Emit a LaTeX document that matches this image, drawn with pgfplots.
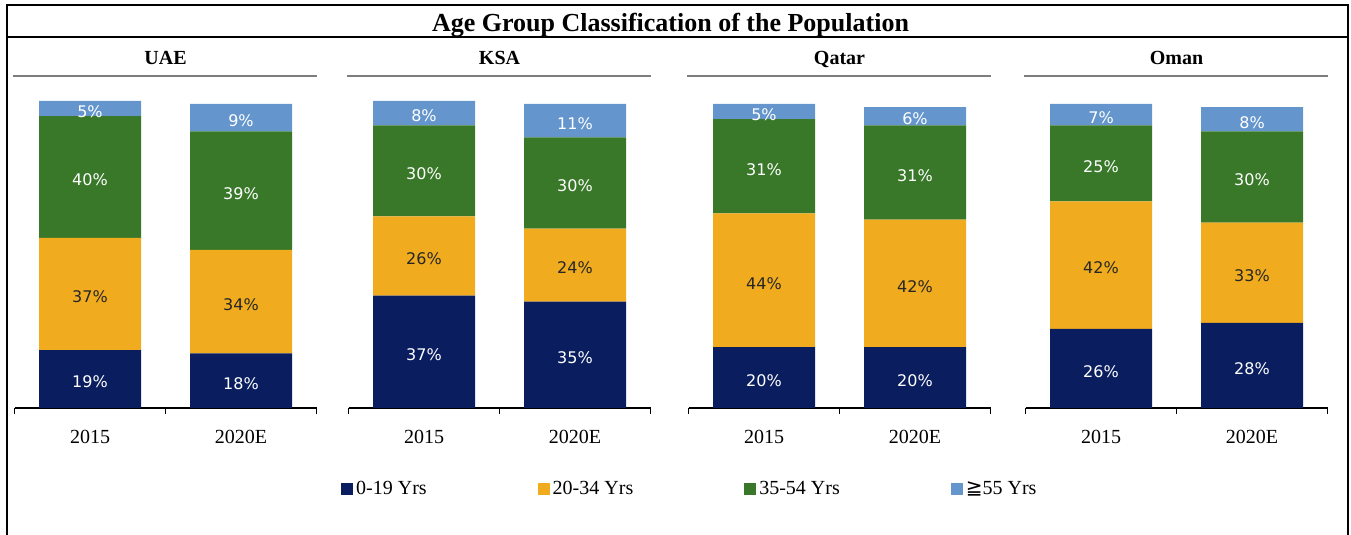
\documentclass[border=0pt]{standalone}
\usepackage{pgfplots}
\pgfplotsset{compat=1.18}
\usepackage{pgfplotstable}
\usepackage{fontspec}
\setmainfont{Liberation Serif}
\newfontfamily\labfont{DejaVu Sans}
\newfontfamily\symfont{DejaVu Sans}

\definecolor{cnavy}{RGB}{10,30,95}
\definecolor{cyellow}{RGB}{240,172,30}
\definecolor{cgreen}{RGB}{56,120,40}
\definecolor{cblue}{RGB}{100,150,205}
\definecolor{cgray}{RGB}{125,125,125}

% a = 0-19, b = 20-34, c = 35-54, d = >=55
\pgfplotstableread{
x a b c d
0 19 37 40 5
1 18 34 39 9
}\uae
\pgfplotstableread{
x a b c d
0 37 26 30 8
1 35 24 30 11
}\ksa
\pgfplotstableread{
x a b c d
0 20 44 31 5
1 20 42 31 6
}\qatar
\pgfplotstableread{
x a b c d
0 26 42 25 7
1 28 33 30 8
}\oman

\pgfplotsset{
  panel/.style={
    scale only axis, width=302pt, height=304pt,
    xmin=-0.5, xmax=1.5, ymin=0, ymax=100, enlargelimits=false,
    anchor=south west, hide axis, clip=false,
    ybar stacked, bar width=102pt,
  },
  legsq/.style={legend image code/.code={\fill[##1,draw=none] (0pt,-6pt) rectangle (12pt,6pt);}},
  seg/.style n args={2}{fill=#1, draw=none, forget plot,
    point meta=explicit symbolic,
    nodes near coords={\pgfplotspointmeta\%},
    every node near coord/.append style={anchor=center, text=#2,
      yshift=-3pt, font=\labfont\fontsize{16}{19}\selectfont, inner sep=0pt}},
}

\newcommand\panel[5]{%
\begin{axis}[panel, at={(#1pt,127pt)}, #4]
  \addplot[seg={cnavy}{white}] table[x=x,y=a,meta=a]{#3};
  \addplot[seg={cyellow}{black!85}] table[x=x,y=b,meta=b]{#3};
  \addplot[seg={cgreen}{white}] table[x=x,y=c,meta=c]{#3};
  \addplot[seg={cblue}{white}] table[x=x,y=d,meta=d]{#3};
  #5
  \draw[line width=1.3pt] (axis cs:-0.5,0) -- (axis cs:1.5,0);
  \draw[line width=1.3pt] (axis cs:-0.5,0) -- ++(0pt,-6pt);
  \draw[line width=1.3pt] (axis cs:0.5,0) -- ++(0pt,-6pt);
  \draw[line width=1.3pt] (axis cs:1.5,0) -- ++(0pt,-6pt);
  \node[anchor=base, font=\fontsize{20}{24}\selectfont] at (axis cs:0,0) [yshift=-36pt] {2015};
  \node[anchor=base, font=\fontsize{20}{24}\selectfont] at (axis cs:1,0) [yshift=-36pt] {2020E};
  \draw[cgray, line width=2.4pt] ([yshift=332pt]axis cs:-0.51,0) -- ([yshift=332pt]axis cs:1.5,0);
  \node[anchor=base, font=\bfseries\fontsize{20}{24}\selectfont] at (axis cs:0.5,0) [yshift=343.5pt] {#2};
\end{axis}}

\begin{document}
\begin{tikzpicture}
\draw[line width=2.2pt] (6.7pt,0pt) -- (6.7pt,529.8pt) -- (1347.8pt,529.8pt) -- (1347.8pt,0pt);
\draw[line width=1.6pt] (6.7pt,498pt) -- (1347.8pt,498pt);
\node[anchor=base, font=\bfseries\fontsize{26}{30}\selectfont] at (670.5pt,503.5pt) {Age Group Classification of the Population};

\panel{14.5}{UAE}{\uae}{
  legend columns=4,
  legend style={at={(1.0811,-0.2664)}, anchor=west, draw=none, fill=none, inner sep=0pt,
    font=\fontsize{20}{24}\selectfont,
    /tikz/every even column/.append style={column sep=110pt},
    /tikz/every odd column/.append style={column sep=2pt},
    nodes={inner sep=1pt}}}{%
  \addlegendimage{legsq, fill=cnavy}\addlegendentry{0-19 Yrs}
  \addlegendimage{legsq, fill=cyellow}\addlegendentry{20-34 Yrs}
  \addlegendimage{legsq, fill=cgreen}\addlegendentry{35-54 Yrs}
  \addlegendimage{legsq, fill=cblue}\addlegendentry{{\symfont ≧}55 Yrs}}
\panel{348.5}{KSA}{\ksa}{}{}
\panel{688.5}{Qatar}{\qatar}{}{}
\panel{1025.5}{Oman}{\oman}{}{}

\pgfresetboundingbox
\path (0pt,0pt) rectangle (1351pt,535pt);
\end{tikzpicture}
\end{document}
